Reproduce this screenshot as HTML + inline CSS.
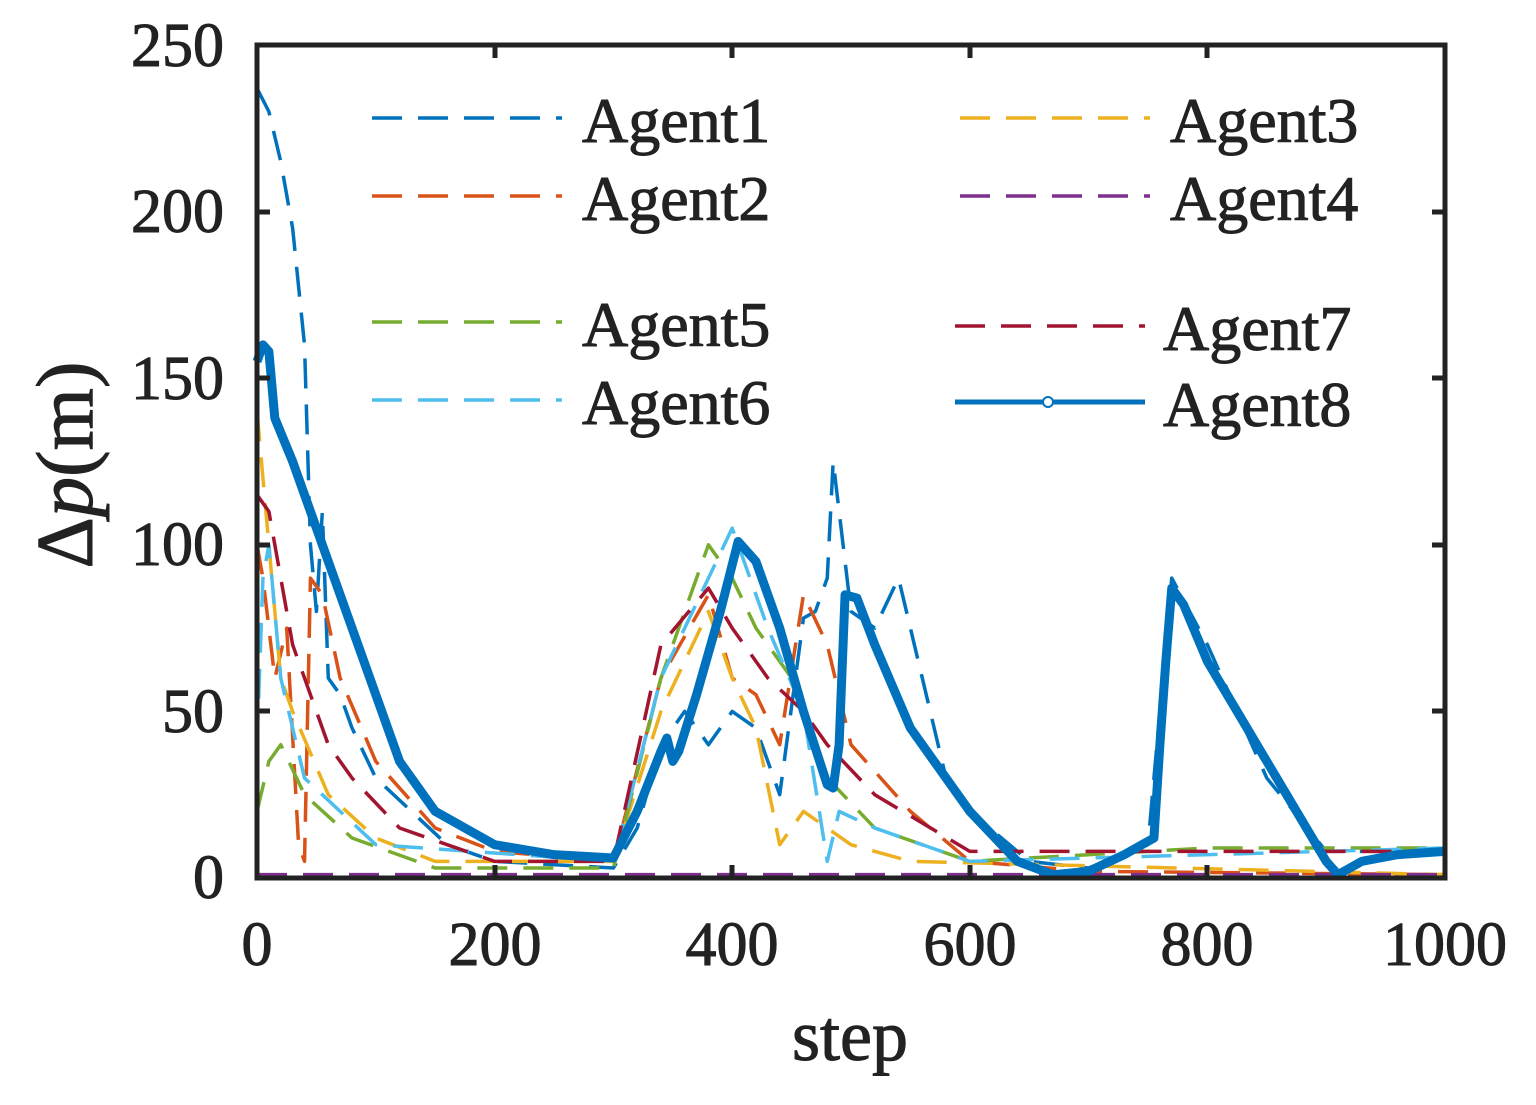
<!DOCTYPE html>
<html><head><meta charset="utf-8"><style>
body{margin:0;background:#fff;}
svg{display:block;}
text{font-family:"Liberation Serif",serif;fill:#222;stroke:#222;stroke-width:1;}
</style></head><body>
<svg width="1536" height="1105" viewBox="0 0 1536 1105">
<rect width="1536" height="1105" fill="#fff"/>
<g transform="translate(257,878) scale(1.188,-3.332)" fill="none" stroke-linejoin="round">
<polyline vector-effect="non-scaling-stroke" stroke="#0072BD" stroke-width="3.5" stroke-dasharray="30,16" points="0,237 10,230 20,215 30,195 40,160 45,100 50,80 55,110 60,60 70,55 80,45 100,30 130,20 160,10 200,5 300,3 320,15 340,40 360,50 380,40 400,50 420,45 440,25 460,78 470,80 480,90 485,125 490,110 500,80 520,75 540,90 560,60 580,30 600,20 650,5 700,3 750,10 770,90 800,70 850,30 900,8 1000,8"/>
<polyline vector-effect="non-scaling-stroke" stroke="#D95319" stroke-width="3.5" stroke-dasharray="30,16" points="0,100 5,90 15,60 25,75 35,10 40,5 45,90 55,85 70,60 100,35 150,15 200,8 300,5 340,60 380,85 400,60 420,55 440,40 460,85 480,70 500,40 550,20 600,5 700,2 1000,1"/>
<polyline vector-effect="non-scaling-stroke" stroke="#EDB120" stroke-width="3.5" stroke-dasharray="30,16" points="0,140 10,100 20,60 30,50 60,25 100,12 150,5 300,5 340,50 380,80 400,60 420,45 440,10 460,20 500,10 550,5 1000,1"/>
<polyline vector-effect="non-scaling-stroke" stroke="#77AC30" stroke-width="3.5" stroke-dasharray="30,16" points="0,20 10,35 20,40 40,25 80,12 150,3 300,3 340,60 380,100 400,90 420,75 450,60 480,30 520,15 600,5 750,8 800,9 1000,9"/>
<polyline vector-effect="non-scaling-stroke" stroke="#4DBEEE" stroke-width="3.5" stroke-dasharray="30,16" points="0,40 5,90 10,100 20,60 40,30 100,10 300,5 340,60 400,105 430,75 460,50 480,5 490,20 520,15 600,5 1000,9"/>
<polyline vector-effect="non-scaling-stroke" stroke="#A2142F" stroke-width="3.5" stroke-dasharray="30,16" points="0,115 10,110 30,70 60,40 80,30 120,15 200,5 300,5 340,70 380,87 400,75 430,60 460,50 480,40 520,25 600,8 750,8 1000,8"/>
<polyline vector-effect="non-scaling-stroke" stroke="#7E2F8E" stroke-width="3.5" stroke-dasharray="30,16" points="0,1 1000,1"/>
<polyline vector-effect="non-scaling-stroke" stroke="#0072BD" stroke-width="9" points="0,155 5,160 10,158 15,138 30,125 50,105 80,75 100,55 120,35 150,20 200,10 250,7 300,6 320,20 340,38 345,42 350,35 355,38 370,55 390,80 405,101 420,95 440,75 460,50 480,28 485,27 490,40 495,85 505,84 520,70 550,45 600,20 640,5 670,1 700,2 730,7 755,12 760,40 765,65 770,87 780,82 800,65 850,35 900,5 910,1 930,5 960,7 1000,8"/>
</g>
<rect x="257" y="45" width="1188" height="833" fill="none" stroke="#222" stroke-width="5"/>
<g stroke="#222" stroke-width="5">
<line x1="257" y1="711" x2="270" y2="711"/><line x1="257" y1="545" x2="270" y2="545"/><line x1="257" y1="378" x2="270" y2="378"/><line x1="257" y1="212" x2="270" y2="212"/>
<line x1="1445" y1="711" x2="1432" y2="711"/><line x1="1445" y1="545" x2="1432" y2="545"/><line x1="1445" y1="378" x2="1432" y2="378"/><line x1="1445" y1="212" x2="1432" y2="212"/>
<line x1="495" y1="878" x2="495" y2="865"/><line x1="732" y1="878" x2="732" y2="865"/><line x1="970" y1="878" x2="970" y2="865"/><line x1="1207" y1="878" x2="1207" y2="865"/>
<line x1="495" y1="45" x2="495" y2="58"/><line x1="732" y1="45" x2="732" y2="58"/><line x1="970" y1="45" x2="970" y2="58"/><line x1="1207" y1="45" x2="1207" y2="58"/>
</g>
<g font-size="62" text-anchor="end">
<text x="224" y="898">0</text><text x="224" y="732">50</text><text x="224" y="565">100</text><text x="224" y="399">150</text><text x="224" y="232">200</text><text x="224" y="66">250</text>
</g>
<g font-size="62" text-anchor="middle">
<text x="257" y="965">0</text><text x="495" y="965">200</text><text x="732" y="965">400</text><text x="970" y="965">600</text><text x="1207" y="965">800</text><text x="1445" y="965">1000</text>
<text x="850" y="1060" font-size="72">step</text>
</g>
<text transform="translate(92,465) rotate(-90)" font-size="80" text-anchor="middle">Δ<tspan font-style="italic">p</tspan>(m)</text>
<g stroke-width="3.5" stroke-dasharray="30,16" fill="none">
<line x1="372" y1="118" x2="562" y2="118" stroke="#0072BD"/>
<line x1="372" y1="196" x2="562" y2="196" stroke="#D95319"/>
<line x1="372" y1="322" x2="562" y2="322" stroke="#77AC30"/>
<line x1="372" y1="400" x2="562" y2="400" stroke="#4DBEEE"/>
<line x1="960" y1="118" x2="1150" y2="118" stroke="#EDB120"/>
<line x1="960" y1="196" x2="1150" y2="196" stroke="#7E2F8E"/>
<line x1="955" y1="326" x2="1145" y2="326" stroke="#A2142F"/>
</g>
<line x1="955" y1="402" x2="1145" y2="402" stroke="#0072BD" stroke-width="5"/>
<circle cx="1048" cy="402" r="5" fill="#fff" stroke="#0072BD" stroke-width="2"/>
<g font-size="64">
<text x="582" y="142">Agent1</text><text x="582" y="220">Agent2</text><text x="582" y="346">Agent5</text><text x="582" y="424">Agent6</text>
<text x="1170" y="142">Agent3</text><text x="1170" y="220">Agent4</text><text x="1163" y="350">Agent7</text><text x="1163" y="426">Agent8</text>
</g>
</svg>
</body></html>
